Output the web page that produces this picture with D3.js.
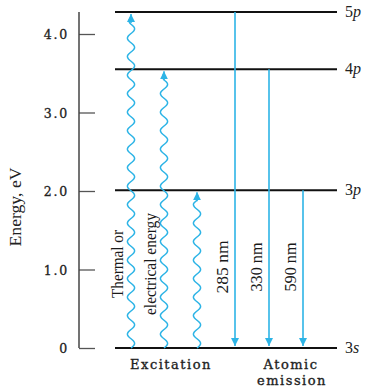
<!DOCTYPE html>
<html><head><meta charset="utf-8">
<script src="https://cdn.jsdelivr.net/npm/d3@7"></script>
<style>
html,body{margin:0;padding:0;background:#fff;}
svg{display:block;}
</style></head>
<body>
<script>
// ---- data ----
const levelNames = ["3s", "3p", "4p", "5p"];
const levelEnergies = [0, 2.01, 3.55, 4.28];
const tickValues = [0, 1, 2, 3, 4];
const tickLabels = ["0", "1.0", "2.0", "3.0", "4.0"];
// excitation (wavy, upward) : from level -> to level
const excitationFrom = ["3s", "3s", "3s"];
const excitationTo = ["5p", "4p", "3p"];
// emission (straight, downward)
const emissionFrom = ["5p", "4p", "3p"];
const emissionTo = ["3s", "3s", "3s"];
const emissionLabels = ["285 nm", "330 nm", "590 nm"];
const excitationText = ["Thermal or", "electrical energy"];
const axisTitle = "Energy, eV";
const groupLabels = ["Excitation", "Atomic emission"];

const W = 367, H = 392;
const svg = d3.select("body").append("svg").attr("width", W).attr("height", H);

const y = d3.scaleLinear().domain([0, 4]).range([348, 34]);
const E = n => levelEnergies[levelNames.indexOf(n)];
const xExc = d3.scalePoint().domain([0, 1, 2]).range([131, 197]);
const xEm = d3.scalePoint().domain([0, 1, 2]).range([235, 303]);

const blue = "#2db4e6";
const serif = "'Liberation Serif','Times New Roman',serif";
const wide = "'DejaVu Serif',serif";

// axis
const axisX = 79;
const ax = svg.append("g").attr("transform", `translate(${axisX},0)`)
  .call(d3.axisLeft(y).tickValues(tickValues).tickSizeInner(-16).tickSizeOuter(0)
    .tickPadding(10).tickFormat((d, i) => tickLabels[i]));
ax.select(".domain").remove();
ax.append("line").attr("x1", 0).attr("x2", 0)
  .attr("y1", y(levelEnergies[3])).attr("y2", y(0))
  .attr("stroke", "#444").attr("stroke-width", 1.5);
ax.selectAll(".tick line").attr("stroke", "#555").attr("stroke-width", 1.3);
ax.selectAll(".tick text").attr("fill", "#222").style("font-family", wide)
  .style("font-size", "12.5px").style("letter-spacing", "1.8px").attr("dy", "0.36em")
  .style("stroke", "#222").style("stroke-width", "0.3px");

// axis title
svg.append("text").attr("transform", `translate(21,${207}) rotate(-90)`)
  .attr("text-anchor", "middle").style("font-family", serif).style("font-size", "17px")
  .attr("fill", "#222").attr("textLength", 79).attr("lengthAdjust", "spacingAndGlyphs")
  .text(axisTitle);

// levels
const x0 = 115, x1 = 337;
svg.selectAll(".lvl").data(levelNames).join("line")
  .attr("x1", x0).attr("x2", x1)
  .attr("y1", d => y(E(d))).attr("y2", d => y(E(d)))
  .attr("stroke", "#111").attr("stroke-width", 2);
const lt = svg.selectAll(".lt").data(levelNames).join("text")
  .attr("x", 345).attr("y", d => y(E(d)) + 5)
  .style("font-family", serif).style("font-size", "16px").attr("fill", "#222");
lt.append("tspan").text(d => d[0]);
lt.append("tspan").style("font-style", "italic").text(d => d.slice(1));

// arrowhead marker
const defs = svg.append("defs");
defs.append("marker").attr("id", "ah").attr("viewBox", "0 0 10 10")
  .attr("refX", 10).attr("refY", 5).attr("markerWidth", 8).attr("markerHeight", 8)
  .attr("markerUnits", "userSpaceOnUse").attr("orient", "auto")
  .append("path").attr("d", "M0,0 L10,5 L0,10 Z").attr("fill", blue);

// wavy excitation arrows
function wavy(cx, yStart, yEnd) {
  const amp = 3.6, period = 18.5;
  const pts = [];
  const len = yStart - yEnd;
  for (let t = 0; t <= len; t += 1) {
    const fade = Math.min(1, (len - t) / 10);
    pts.push([cx + amp * fade * Math.sin(2 * Math.PI * t / period), yStart - t]);
  }
  return d3.line()(pts);
}
excitationFrom.forEach((f, i) => {
  const ys = y(E(f)), ye = y(E(excitationTo[i])) + 2;
  svg.append("path").attr("d", wavy(xExc(i), ys, ye + 1))
    .attr("fill", "none").attr("stroke", blue).attr("stroke-width", 1.5);
  svg.append("path").attr("d", d3.line()([[xExc(i), ye + 9], [xExc(i), ye]]))
    .attr("stroke", blue).attr("stroke-width", 1.5).attr("marker-end", "url(#ah)");
});

// straight emission arrows
emissionFrom.forEach((f, i) => {
  svg.append("line").attr("x1", xEm(i)).attr("x2", xEm(i))
    .attr("y1", y(E(f))).attr("y2", y(E(emissionTo[i])) - 2)
    .attr("stroke", blue).attr("stroke-width", 1.6).attr("marker-end", "url(#ah)");
});

// rotated labels
function rlabel(x, cy, txt, len) {
  svg.append("text").attr("transform", `translate(${x},${cy}) rotate(-90)`)
    .attr("text-anchor", "middle").style("font-family", serif).style("font-size", "17px")
    .attr("fill", "#1a1a1a").attr("textLength", len).attr("lengthAdjust", "spacingAndGlyphs")
    .text(txt);
}
rlabel(123, 264, excitationText[0], 68);
rlabel(156, 264, excitationText[1], 102);
const emLen = [53, 49, 49];
emissionLabels.forEach((t, i) => rlabel(xEm(i) - 7, 267, t, emLen[i]));

// group labels
function glabel(x, yy, t) {
  svg.append("text").attr("x", x).attr("y", yy).attr("text-anchor", "middle")
    .style("font-family", wide).style("font-size", "13px").style("letter-spacing", "1.5px")
    .attr("fill", "#222").style("stroke", "#222").style("stroke-width", "0.35px").text(t);
}
const [w1, w2] = groupLabels[1].split(" ");
glabel(171, 369, groupLabels[0]);
glabel(291, 369, w1);
glabel(292, 385, w2);
</script>
</body></html>
